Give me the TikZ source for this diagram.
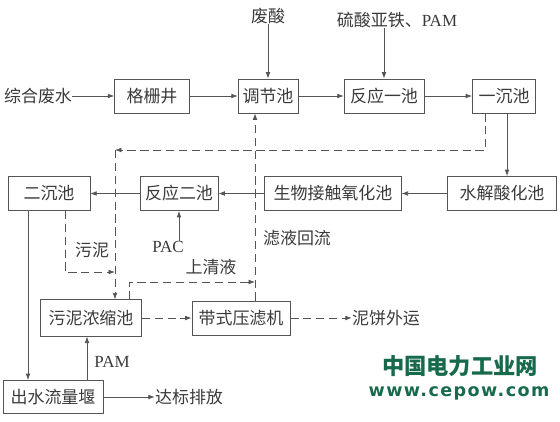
\documentclass[tikz,border=0pt]{standalone}
\usepackage{fontspec}
\setmainfont{Liberation Serif}
\newfontfamily\cjk{Noto Sans CJK SC}
\newfontfamily\wmfont[LetterSpace=8]{DejaVu Sans}
\usetikzlibrary{shapes,arrows.meta}
\definecolor{linegray}{HTML}{555555}
\definecolor{textgray}{HTML}{3A3A3A}
\definecolor{wmgreen}{HTML}{176B4C}
\tikzstyle{unit} = [rectangle, minimum height=1.03cm, inner sep=0pt, text centered, draw=linegray, font=\cjk\fontsize{14.5}{16}\selectfont]
\tikzstyle{txt} = [inner sep=0pt, font=\cjk\fontsize{14.5}{16}\selectfont]
\tikzstyle{latin} = [inner sep=0pt, font=\rmfamily\fontsize{14.5}{16}\selectfont]
\tikzstyle{arrow} = [linegray, line width=0.6pt, ->, >={Latex[length=5.5pt,width=4pt]}]
\tikzstyle{dasharrow} = [arrow, dash pattern=on 7pt off 4pt]

\begin{document}
\begin{tikzpicture}[x=0.03cm, y=-0.03cm, text=textgray]
        \useasboundingbox (0,0) rectangle (560,422);
        \node (src) [txt] at (38,96) {综合废水};
        \node (ggj) [unit, minimum width=2.25cm] at (152,96) {格栅井};
        \node (tjc) [unit, minimum width=1.8cm] at (268,96) {调节池};
        \node (acid) [txt] at (268,16) {废酸};
        \node (fy1) [unit, minimum width=2.4cm] at (384,96) {反应一池};
        \node (dose) [txt] at (397,20) {硫酸亚铁、{\rmfamily PAM}};
        \node (cd1) [unit, minimum width=1.9cm] at (504,96) {一沉池};
        \node (sj) [unit, minimum width=3.27cm] at (502,193.5) {水解酸化池};
        \node (sw) [unit, minimum width=4.1cm] at (333,193.5) {生物接触氧化池};
        \node (fy2) [unit, minimum width=2.35cm] at (179,193.5) {反应二池};
        \node (cd2) [unit, minimum width=2.46cm] at (49,193.5) {二沉池};
        \node (pac) [latin] at (168,247) {PAC};
        \node (wn) [unit, minimum width=3.03cm, minimum height=1.1cm] at (91,318) {污泥浓缩池};
        \node (yl) [unit, minimum width=2.95cm] at (241,318) {带式压滤机};
        \node (cake) [txt] at (386,318) {泥饼外运};
        \node (weir) [unit, minimum width=3cm, minimum height=1cm] at (53,397) {出水流量堰};
        \node (pam) [latin] at (112,362) {PAM};
        \node (out) [txt] at (189,397) {达标排放};
        \node (sludge) [txt] at (92,250) {污泥};
        \node (clear) [txt] at (211,267) {上清液};
        \node (filt) [txt] at (297,238) {滤液回流};
        \node (wm1) [font=\cjk\bfseries\fontsize{19}{22}\selectfont, text=wmgreen] at (460,366) {中国电力工业网};
        \node (wm2) [font=\wmfont\bfseries\fontsize{15}{18}\selectfont, text=wmgreen] at (459,393) {www.cepow.com};
        \coordinate (ret) at (115,150);
        \coordinate (mix) at (115,272);
        \coordinate (back) at (255,282);
        % main line
        \draw [arrow] (src) -- (ggj);
        \draw [arrow] (ggj) -- (tjc);
        \draw [arrow] (acid) -- (tjc);
        \draw [arrow] (tjc) -- (fy1);
        \draw [arrow] (dose.south -| fy1) -- (fy1);
        \draw [arrow] (fy1) -- (cd1);
        \draw [arrow] ([xshift=0.09cm]cd1.south) -- ([xshift=0.09cm]cd1.south |- sj.north);
        \draw [arrow] (sj) -- (sw);
        \draw [arrow] (sw) -- (fy2);
        \draw [arrow] (fy2) -- (cd2);
        \draw [arrow] (pac.north -| fy2) -- (fy2);
        \draw [arrow] ([xshift=-0.63cm]cd2.south) -- ([xshift=-0.63cm]cd2.south |- weir.north);
        \draw [arrow] (weir) -- (out);
        \draw [arrow] ([xshift=-0.12cm]wn.south |- weir.north) -- ([xshift=-0.12cm]wn.south);
        % sludge line
        \draw [dasharrow] (wn) -- (yl);
        \draw [dasharrow] (yl) -- (cake);
        \draw [dasharrow] ([xshift=-0.55cm]cd1.south) |- (ret);
        \draw [dasharrow] (ret) -- (ret |- wn.north);
        \draw [dasharrow] ([xshift=0.48cm]cd2.south) |- (mix);
        \draw [dasharrow] ([xshift=1.14cm]wn.north) |- (back);
        \draw [dasharrow] ([xshift=0.42cm]yl.north) -- ([xshift=0.42cm]yl.north |- tjc.south);
\end{tikzpicture}
\end{document}
